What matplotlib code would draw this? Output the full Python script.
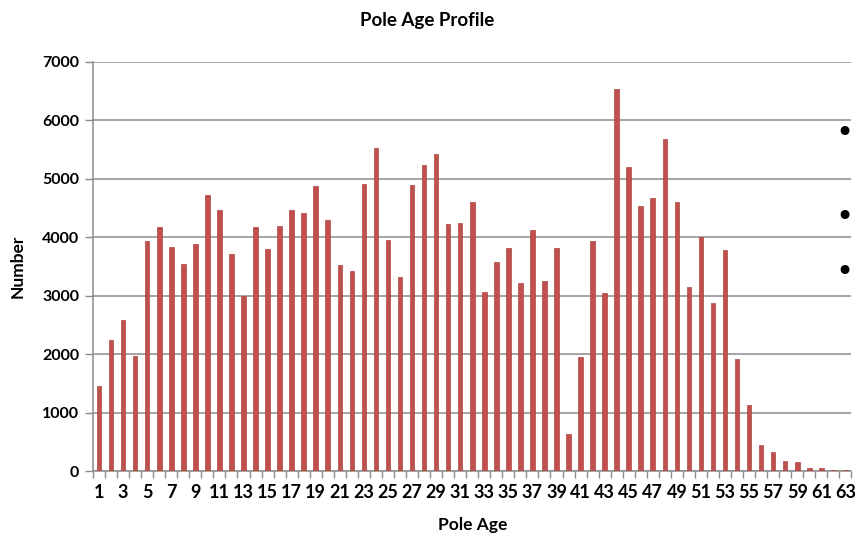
import numpy as np
import matplotlib
matplotlib.use('Agg')
import matplotlib.pyplot as plt

# pole age categories and counts
ages = list(range(1, 64))
counts = [1450, 2240, 2590, 1970, 3940, 4180, 3840, 3550, 3880, 4720,
          4460, 3720, 3000, 4170, 3800, 4200, 4460, 4420, 4880, 4300,
          3530, 3420, 4920, 5520, 3960, 3320, 4890, 5240, 5420, 4230,
          4250, 4600, 3070, 3580, 3820, 3210, 4130, 3260, 3810, 630,
          1950, 3940, 3040, 6530, 5200, 4540, 4670, 5680, 4600, 3150,
          4000, 2870, 3780, 1910, 1130, 440, 320, 170, 150, 60,
          60, 20, 15]
yticks = [0, 1000, 2000, 3000, 4000, 5000, 6000, 7000]

plt.rcParams['font.family'] = ['Lato', 'DejaVu Sans']

fig = plt.figure(figsize=(8.55, 5.39), dpi=100)
ax = fig.add_axes([0.1088, 0.126, 0.887, 0.759])

ax.bar(ages, counts, width=0.38, color='#C0504D', edgecolor='#B04440',
       linewidth=0.5, zorder=3)

ax.set_xlim(0.5, 63.5)
ax.set_ylim(0, 7000)
ax.set_yticks(yticks)
ax.set_yticklabels([str(v) for v in yticks], fontsize=11.5, fontweight='bold')
ax.yaxis.grid(True, color='#8c8c8c', linewidth=1.1, zorder=0)

# odd labels only, ticks between categories
ax.set_xticks(ages[::2])
ax.set_xticklabels([str(a) for a in ages[::2]], fontsize=13, fontweight='bold')
ax.tick_params(axis='x', length=0, pad=9)
ax.set_xticks(np.arange(0.5, 64, 1), minor=True)
ax.tick_params(axis='x', which='minor', length=5, color='#8c8c8c', width=1)
ax.tick_params(axis='y', length=6, color='#8c8c8c', width=1, pad=4)

for s in ['top', 'right']:
    ax.spines[s].set_visible(False)
ax.spines['left'].set_color('#8c8c8c')
ax.spines['bottom'].set_color('#8c8c8c')
ax.spines['left'].set_linewidth(1.1)
ax.spines['bottom'].set_linewidth(1.1)

ax.set_xlabel('Pole Age', fontsize=12.5, fontweight='bold', labelpad=12)
ax.set_ylabel('Number', fontsize=12.5, fontweight='bold', labelpad=12)
fig.text(0.5, 0.962, 'Pole Age Profile', ha='center', va='center',
         fontsize=13.5, fontweight='bold')

# slide bullets peeking in from the right
for yb in [0.753, 0.597, 0.495]:
    fig.text(0.988, yb, '\u2022', ha='center', va='center', fontsize=22,
             family='DejaVu Sans')

fig.savefig('out.png', dpi=100)
